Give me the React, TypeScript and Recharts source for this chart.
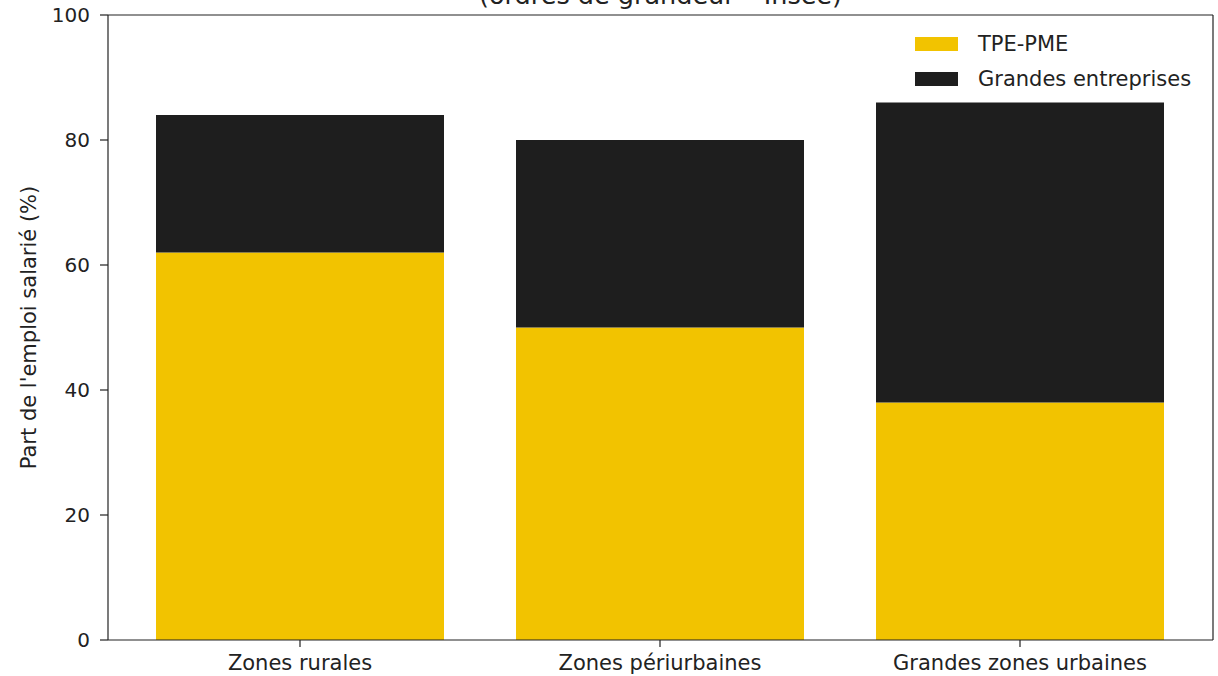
import React from 'react';
import { BarChart, Bar, XAxis, YAxis } from 'recharts';

const categories = ['Zones rurales', 'Zones périurbaines', 'Grandes zones urbaines'];
const tpePme = [62, 50, 38];
const grandesEntreprises = [22, 30, 48];
const yTicks = [0, 20, 40, 60, 80, 100];

const SERIES = [
  { key: 'tpe', name: 'TPE-PME', color: '#F2C300' },
  { key: 'ge', name: 'Grandes entreprises', color: '#1E1E1E' }
];

const data = categories.map((c, i) => ({ zone: c, tpe: tpePme[i], ge: grandesEntreprises[i] }));

const FONT = '"DejaVu Sans", sans-serif';
const AXIS = '#222';

const YLabel = ({ viewBox }: any) => {
  const x = 30;
  const y = viewBox.y + viewBox.height / 2;
  return (
    <text x={x} y={y} transform={`rotate(-90 ${x} ${y})`} textAnchor="middle" dominantBaseline="middle"
      fontFamily={FONT} fontSize={21} fill="#222">
      Part de l'emploi salarié (%)
    </text>
  );
};

export default function App() {
  return (
    <div style={{ position: 'absolute', left: 0, top: 0, width: 1218, height: 676, background: '#fff', overflow: 'hidden' }}>
      <div style={{ position: 'absolute', left: 108, width: 1105, top: -20, textAlign: 'center', fontFamily: FONT, fontSize: 25.5, color: '#222', lineHeight: '30px' }}>
        (ordres de grandeur – Insee)
      </div>
      <BarChart width={1218} height={676} data={data} margin={{ top: 0, right: 0, bottom: 0, left: 0 }} barSize={288}>
        <XAxis dataKey="zone" xAxisId="bottom" height={36} padding={{ left: 12, right: 13 }}
          tickSize={7} tickMargin={8} stroke={AXIS} strokeWidth={1.2}
          tick={{ fontFamily: FONT, fontSize: 21, fill: '#222' }} />
        <XAxis dataKey="zone" xAxisId="top" orientation="top" height={15} tick={false} tickLine={false}
          stroke={AXIS} strokeWidth={1.2} padding={{ left: 12, right: 13 }} />
        <YAxis yAxisId="left" width={108} domain={[0, 100]} ticks={yTicks} tickSize={8} tickMargin={10}
          stroke={AXIS} strokeWidth={1.2} tick={{ fontFamily: FONT, fontSize: 20, fill: '#222' }}
          label={<YLabel />} />
        <YAxis yAxisId="right" orientation="right" width={5} domain={[0, 100]} tick={false} tickLine={false}
          stroke={AXIS} strokeWidth={1.2} />
        {SERIES.map((s) => (
          <Bar key={s.key} dataKey={s.key} name={s.name} stackId="a" fill={s.color}
            xAxisId="bottom" yAxisId="left" isAnimationActive={false} />
        ))}
      </BarChart>
      <div style={{ position: 'absolute', left: 915, top: 26, fontFamily: FONT, fontSize: 21, color: '#222' }}>
        {SERIES.map((s) => (
          <div key={s.key} style={{ display: 'flex', alignItems: 'center', height: 35 }}>
            <span style={{ display: 'inline-block', width: 43, height: 14, background: s.color, marginRight: 20 }} />
            <span>{s.name}</span>
          </div>
        ))}
      </div>
    </div>
  );
}
